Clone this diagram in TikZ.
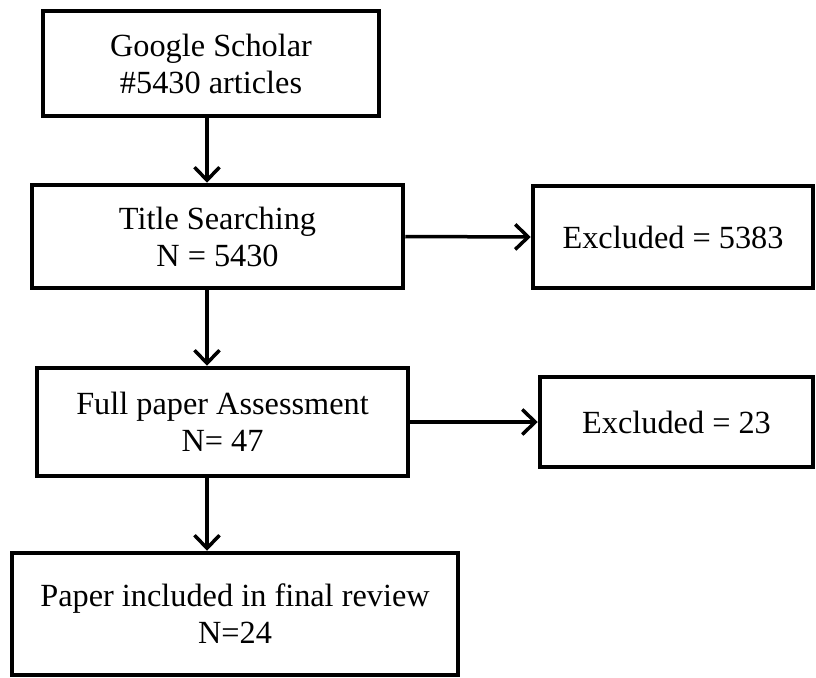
\documentclass[tikz,border=0pt]{standalone}
\usepackage{fontspec}
\setmainfont{Liberation Serif}
\usetikzlibrary{arrows.meta}

\begin{document}
\begin{tikzpicture}[
  x=1pt, y=-1pt,
  box/.style={draw, line width=4.5pt, rectangle, inner sep=0pt, align=center, font=\fontsize{32.3}{37}\selectfont},
  arr/.style={-{Straight Barb[length=13pt, width=25pt, line width=3.5pt]}, line width=3.5pt}
]
\useasboundingbox (0,0) rectangle (816,677);

\node[box, minimum width=336pt, minimum height=105pt] (scholar) at (211,63.5) {Google Scholar\\\#5430 articles};

\node[box, minimum width=371pt, minimum height=103pt] (title) at (217.5,236.5) {Title Searching\\N = 5430};

\node[box, minimum width=280pt, minimum height=102pt] (excl1) at (673,237) {Excluded = 5383};

\node[box, minimum width=371pt, minimum height=108pt] (full) at (222.5,422) {Full paper Assessment\\N= 47};

\node[box, minimum width=273pt, minimum height=90pt] (excl2) at (676.5,422) {Excluded = 23};

\node[box, minimum width=446pt, minimum height=122pt] (final) at (235,614) {Paper included in final review\\N=24};

\coordinate (col) at (207,0);

\draw[arr] (scholar.south -| col) -- (title.north -| col);
\draw[arr] (title.east) -- (excl1.west);
\draw[arr] (title.south -| col) -- (full.north -| col);
\draw[arr] (full.east) -- (excl2.west);
\draw[arr] (full.south -| col) -- (final.north -| col);

\end{tikzpicture}
\end{document}
